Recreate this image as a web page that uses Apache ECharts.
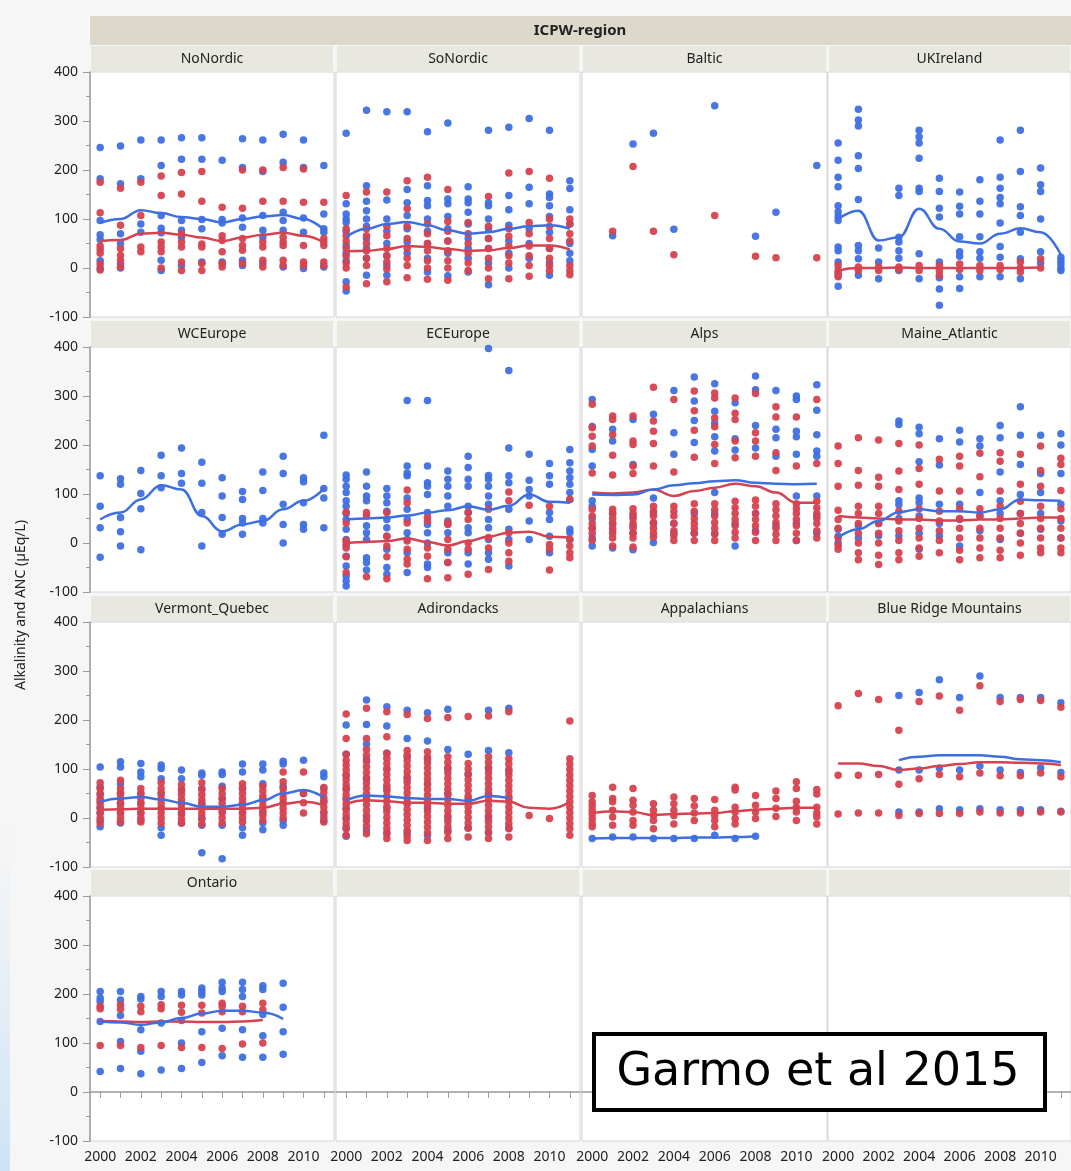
<!DOCTYPE html>
<html>
<head>
<meta charset="utf-8">
<script src="https://cdn.jsdelivr.net/npm/echarts@6/dist/echarts.min.js"></script>
<style>
  html, body { margin: 0; padding: 0; background: #f6f6f6; }
  #main { width: 1071px; height: 1171px; }
</style>
</head>
<body>
<div id="main"></div>
<script>
// years on the x axis, index 0 = 2000
var years = [2000, 2001, 2002, 2003, 2004, 2005, 2006, 2007, 2008, 2009, 2010, 2011];
var yearLabels = [2000, 2002, 2004, 2006, 2008, 2010];

// ---- NoNordic ----
var noNordicBlue = [[246, 182, 97, 68, 58, 15, 0], [249, 172, 70, 50, 9, 0], [261, 182, 90, 73], [261, 209, 107, 81, 72, 16, -5],
    [266, 222, 97, 77, 63, 5], [266, 222, 99, 80, 12], [220, 99, 92, 12], [264, 205, 102, 83, 16, 5],
    [261, 197, 107, 77, 63, 9], [273, 216, 114, 97, 77, 2], [261, 205, 102, 73, -1], [209, 110, 80, 73, 2]];
var noNordicRed = [[175, 113, 45, 38, 30, 8, -4], [163, 87, 40, 26, 16, 2], [175, 107, 43, 33], [188, 148, 53, 43, 33, 0],
    [195, 151, 70, 53, 43, 12, -5], [197, 136, 49, 43, 9, -5], [124, 66, 56, 33, 9, 2], [200, 122, 60, 46, 36, 9],
    [200, 136, 53, 43, 16, 2], [205, 136, 63, 53, 46, 16, 5], [202, 134, 46, 12, 5], [134, 60, 53, 46, 12, 5]];
var noNordicBlueFit = [92, 100, 118, 112, 104, 100, 93, 100, 105, 108, 100, 78];
var noNordicRedFit = [55, 57, 70, 72, 68, 62, 55, 62, 68, 72, 66, 52];

// ---- SoNordic ----
var soNordicBlue = [[275, 131, 110, 100, 93, 75, 46, 30, 15, -28, -47], [322, 168, 136, 117, 100, 85, 60, 40, 20, -15],
    [319, 139, 100, 75, 50, 25, 5, -15], [319, 160, 133, 107, 80, 53, 30], [278, 168, 138, 127, 100, 75, 50, 20, -8],
    [296, 141, 131, 105, 80, 55, 30, -16], [166, 141, 133, 114, 90, 60, 40, 20, -8], [281, 133, 127, 100, 80, 60, 40, 10, -34],
    [287, 148, 119, 87, 55, 30, 0], [305, 165, 131, 80, 50, 20], [281, 151, 144, 127, 105, 73, 40, 10, -15],
    [178, 162, 119, 90, 50, 30, 15]];
var soNordicRed = [[148, 80, 66, 55, 40, 25, 10, 0, -39], [155, 80, 66, 50, 35, 20, 5, -32], [155, 85, 66, 40, 25, 12, -2, -28],
    [178, 121, 85, 60, 40, 20, 5, -20], [185, 90, 70, 50, 35, 15, 0, -23], [160, 95, 75, 55, 35, 15, 0, -25],
    [93, 70, 50, 30, 10, -5], [146, 85, 60, 40, 20, 0, -22], [194, 80, 65, 45, 25, 10, -22], [197, 93, 70, 45, 25, 5, -17],
    [183, 100, 85, 60, 40, 20, 5, -5], [100, 90, 70, 55, 5, -5, -14]];
var soNordicBlueFit = [63, 80, 90, 94, 87, 77, 70, 73, 80, 85, 87, 80];
var soNordicRedFit = [34, 35, 39, 45, 43, 39, 35, 36, 41, 46, 46, 38];

// ---- Baltic ----
var balticBlue = [[], [66], [253], [275], [79], [], [331], [], [65], [114], [], [209]];
var balticRed = [[], [75], [207], [75], [27], [], [107], [], [24], [21], [], [21]];

// ---- UKIreland ----
var ukIrelandBlue = [[255, 220, 185, 166, 127, 115, 105, 97, 43, 35, 12, -15, -37], [324, 302, 290, 229, 203, 140, 46, 35, 19, -15],
    [41, 12, -22], [163, 148, 63, 53, 35, 20, -5], [281, 268, 255, 224, 163, 156, 29, -22], [183, 156, 122, 104, 12, -20, -43, -76],
    [155, 126, 110, 64, 33, 24, -18, -42], [180, 136, 110, 64, 33, 20, -18], [261, 185, 163, 144, 131, 92, 44, 22, -18],
    [281, 197, 125, 107, 73, 19, -22], [204, 170, 156, 100, 33, 10], [22, 15, 8, 0, -5]];
var ukIrelandRed = [[5, -5, -10, -18], [2, -5], [2, -5], [2, -3], [5, -5], [5, -5, -15], [8, -3], [5, -5], [5, -3], [12, 0, -8], [19, 0], []];
var ukIrelandBlueFit = [100, 117, 56, 63, 121, 80, 54, 50, 70, 81, 73, 27];
var ukIrelandRedFit = [-5, 0, 0, 1, 0, 0, 0, 0, 0, 0, 1, null];

// ---- WCEurope ----
var wcEuropeBlue = [[137, 75, 31, -29], [131, 120, 52, 23, -6], [148, 101, 70, -14], [179, 137, 113], [194, 142, 122],
    [165, 122, 62, -6], [133, 96, 52, 18], [105, 89, 50, 41, 18], [145, 107, 50, 41], [177, 142, 79, 38, 0],
    [133, 125, 82, 38, 28], [220, 111, 92, 31]];
var wcEuropeBlueFit = [48, 62, 89, 118, 109, 55, 24, 38, 45, 69, 86, 111];

// ---- ECEurope ----
var ecEuropeBlue = [[139, 130, 116, 103, 86, 75, 60, 48, 28, 7, -6, -27, -47, -67, -77, -88], [145, 116, 96, 86, 35, 21, 7, -30, -40, -55],
    [111, 96, 82, 65, 48, 31, 14, -13, -50, -64], [291, 157, 143, 137, 92, 69, 48, 21, 7, -20, -60],
    [291, 157, 123, 116, 99, 62, 38, 21, 0, -43, -50], [147, 130, 116, 96, 75, 45, 21, -20, -40],
    [177, 154, 130, 116, 75, 62, 31, 21, -20, -43], [397, 138, 130, 116, 96, 79, 48, 31, 7, -20, -33],
    [352, 194, 137, 123, 69, 28, 7, -47], [181, 128, 109, 96, 45, 7], [162, 137, 120, 62, 48, 14, -20],
    [191, 164, 147, 133, 120, 103, 89, 28, 21, 7]];
var ecEuropeRed = [[63, 41, 5, -1, -10, -28, -60], [62, 55, -69], [62, 14, -6, -28, -73], [108, 82, 41, 4, -13, -33, -43],
    [52, 45, -10, -27, -73], [41, 38, 7, -13, -40, -71], [62, 48, 0, -13, -64], [69, 11, -10, -54],
    [104, 86, 21, 0, -20, -37], [77], [75, -3, -13, -55], [89, 7, -6, -20, -30]];
var ecEuropeBlueFit = [48, 50, 52, 56, 62, 67, 75, 68, 76, 99, 84, 82];
var ecEuropeRedFit = [0, 2, 4, 9, 2, -5, 4, 13, 21, 23, 13, 11];

// ---- Alps ----
var alpsBlue = [[293, 238, 191, 157, 86, 75, 50, 30, 10, -6], [232, 208, 60, 40, 25, -10], [252, 160, 55, 35, 20, -14],
    [263, 92, 60, 40, 1], [311, 225, 181, 40, 20], [339, 290, 250, 205, 60, 20], [325, 269, 245, 217, 188, 103, 60, 20],
    [286, 213, 190, 40, -6], [341, 313, 240, 194, 60, 25], [311, 232, 215, 177, 35], [300, 293, 228, 217, 181, 96, 40, 5],
    [323, 271, 221, 188, 177, 96, 55, 20]];
var alpsRed = [[283, 235, 218, 198, 143, 69, 55, 40, 30, 20, 5], [259, 252, 221, 179, 139, 69, 60, 50, 40, 30, 20, 10, -6],
    [259, 208, 201, 157, 142, 70, 60, 50, 40, 30, 20, 10, -8], [318, 249, 228, 203, 157, 75, 65, 55, 42, 30, 20, 12],
    [293, 145, 75, 65, 55, 40, 25, 15, 5], [310, 270, 230, 175, 80, 65, 50, 40, 30, 20, 5],
    [306, 296, 255, 237, 201, 162, 80, 68, 55, 42, 30, 18, 5], [296, 265, 252, 208, 174, 85, 72, 60, 48, 35, 22, 10],
    [305, 225, 208, 177, 88, 75, 60, 48, 35, 22, 5], [278, 257, 184, 148, 80, 68, 55, 42, 30, 18, 5],
    [257, 157, 80, 70, 60, 48, 35, 20, 5], [293, 162, 85, 72, 60, 50, 40, 25, 10]];
var alpsBlueFit = [99, 98, 99, 109, 118, 122, 126, 128, 123, 121, 120, 121];
var alpsRedFit = [103, 101, 103, 109, 96, 106, 113, 121, 116, 103, 82, 82];

// ---- Maine_Atlantic ----
var maineBlue = [[28, 14, 0], [35, 10], [40, 15], [249, 242, 86, 78, 50, 15], [236, 223, 166, 92, 82, 55, 20, -13],
    [213, 159, 79, 40, 15], [230, 206, 79, 48, -6], [213, 198, 103, 55, 25], [240, 215, 145, 86, 60, 7],
    [278, 220, 160, 99, 60, 20], [220, 142, 103, 60, 28], [223, 200, 142, 79, 45, 10]];
var maineRed = [[198, 162, 116, 67, 48, 30, 10, -5, -13], [215, 148, 118, 75, 60, 40, 20, 0, -20, -34],
    [210, 134, 116, 75, 60, 40, 20, 0, -25, -44], [203, 147, 109, 65, 45, 25, 5, -20, -34],
    [200, 152, 120, 70, 50, 30, 10, -10, -27], [171, 106, 65, 45, 25, 5, -20], [177, 157, 106, 70, 50, 30, 10, -15, -34],
    [183, 135, 70, 55, 30, 10, -10, -30], [184, 167, 106, 75, 50, 30, 10, -15, -30], [181, 120, 85, 60, 40, 20, 0, -25],
    [198, 148, 116, 75, 50, 30, 10, -10, -20], [173, 160, 107, 70, 50, 30, 10, -10, -20]];
var maineBlueFit = [11, 28, 45, 63, 69, 65, 65, 62, 69, 89, 87, 86];
var maineRedFit = [55, 52, 50, 48, 48, 46, 46, 48, 48, 50, 52, 52];

// ---- Vermont_Quebec ----
var vermontBlue = [[104, 63, 48, 35, 22, 10, -5, -18], [115, 104, 70, 50, 30, 10, -10], [111, 94, 84, 50, 30, 10, -5],
    [108, 101, 80, 50, 20, -20, -35], [98, 80, 55, 30, 10, -10], [92, 87, 60, 30, 0, -15, -71], [94, 89, 65, 40, 15, -15, -83],
    [110, 94, 60, 30, 10, -20, -35], [110, 98, 70, 40, 10, -10, -24], [116, 110, 65, 30, -5, -15], [118, 50],
    [92, 84, 60, 35, 10, -5]];
var vermontRed = [[72, 60, 50, 40, 30, 20, 10, 0, -10], [77, 60, 50, 40, 30, 20, 10, 0, -8], [60, 50, 40, 30, 20, 10, 0, -8],
    [72, 60, 50, 40, 30, 20, 10, 0, -10], [68, 58, 48, 38, 28, 18, 8, -2, -10], [72, 58, 48, 38, 28, 18, 8, -2, -12],
    [60, 50, 40, 30, 20, 10, 0, -10], [70, 60, 50, 40, 30, 20, 10, 0, -8], [65, 55, 45, 35, 25, 15, 5, -5],
    [94, 74, 60, 50, 40, 30, 20, 10, 0], [94, 50, 31, 10], [62, 52, 42, 32, 22, 12, 2, -8]];
var vermontBlueFit = [33, 40, 43, 38, 31, 23, 23, 27, 36, 50, 57, 42];
var vermontRedFit = [17, 18, 19, 19, 19, 19, 19, 19, 21, 29, 33, 26];

// ---- Adirondacks ----
var adkBlue = [[190, 130, 87, 60, 40, 20, 0, -20, -37], [241, 191, 151, 120, 80, 40, 0, -25], [227, 188, 132, 100, 60, 20, -30],
    [220, 162, 125, 80, 30, -30], [215, 157, 120, 70, 20, -35], [222, 140, 100, 50, 0, -25], [130, 90, 40, -20],
    [220, 138, 100, 50, 0, -30], [224, 133, 95, 40, -20], [], [], []];
var adkRed = [[212, 162, 130, 118, 108, 98, 88, 78, 68, 58, 48, 38, 28, 18, 8, -2, -12, -22, -35],
    [224, 162, 140, 128, 115, 104, 93, 82, 71, 60, 49, 38, 27, 16, 5, -6, -17, -32],
    [217, 166, 132, 122, 111, 100, 89, 78, 67, 56, 45, 34, 23, 12, 1, -10, -21, -32, -42],
    [211, 138, 128, 117, 106, 95, 84, 73, 62, 51, 40, 29, 18, 7, -4, -15, -26, -37, -46],
    [203, 135, 124, 113, 102, 91, 80, 69, 58, 47, 36, 25, 14, 3, -8, -19, -30, -46],
    [205, 125, 114, 103, 92, 81, 70, 59, 48, 37, 26, 15, 4, -7, -18, -29, -42],
    [207, 111, 100, 89, 78, 67, 56, 45, 34, 23, 12, 1, -10, -21, -39],
    [208, 125, 114, 103, 92, 81, 70, 59, 48, 37, 26, 15, 4, -7, -18, -29, -42],
    [217, 121, 110, 99, 88, 77, 66, 55, 44, 33, 22, 11, 0, -11, -22, -39],
    [5], [-1], [198, 121, 110, 99, 88, 77, 66, 55, 44, 33, 22, 11, 0, -11, -22, -35]];
var adkBlueFit = [36, 46, 44, 41, 39, 39, 35, 45, 41, null, null, null];
var adkRedFit = [29, 36, 34, 31, 31, 29, 29, 35, 33, 21, 19, 33];

// ---- Appalachians ----
var appBlue = [[-42], [-39], [-39], [-42], [-42], [-42], [-35], [-42], [-37], [], [], []];
var appRed = [[46, 33, 25, 16, 8, -1, -10, -18], [63, 40, 33, 16, 2, -15], [60, 36, 26, 12, -5, -15], [29, 16, 5, -5, -22],
    [43, 29, 16, 5, -12], [40, 25, 10, -5], [38, 16, 5, -5, -18], [63, 57, 22, 12, -1, -12], [46, 26, 12, -1],
    [55, 40, 20, 3], [74, 60, 34, 22, 12, -5], [58, 49, 22, 10, 2, -12]];
var appBlueFit = [-42, -41, -41, -41, -41, -40, -40, -39, -37, null, null, null];
var appRedFit = [10, 14, 12, 6, 8, 9, 10, 14, 17, 19, 21, 21];

// ---- Blue Ridge Mountains ----
var blueRidgeBlue = [[], [], [], [250, 98, 12], [256, 98, 12], [282, 102, 19], [246, 98, 17], [290, 106, 19],
    [246, 98, 17], [246, 93, 17], [246, 102, 17], [235, 93, 14]];
var blueRidgeRed = [[229, 87, 8], [254, 87, 10], [242, 89, 10], [179, 69, 5], [238, 80, 9], [249, 89, 9], [220, 84, 9],
    [270, 92, 12], [238, 86, 10], [242, 86, 10], [240, 92, 12], [226, 84, 12]];
var blueRidgeBlueFit = [null, null, null, 118, 125, 128, 128, 128, 125, 120, 118, 114];
var blueRidgeRedFit = [111, 111, 106, 98, 101, 106, 110, 114, 114, 113, 111, 108];

// ---- Ontario ----
var ontarioBlue = [[205, 192, 185, 144, 42], [205, 188, 156, 103, 48], [195, 190, 127, 83, 37], [205, 195, 141, 45],
    [205, 198, 146, 100, 48], [212, 205, 198, 123, 60], [224, 212, 205, 130, 74], [224, 209, 195, 127, 71],
    [217, 209, 158, 115, 71], [222, 173, 123, 77], [], []];
var ontarioRed = [[175, 170, 95], [178, 169, 95], [175, 164, 91], [178, 170, 95], [177, 163, 91], [177, 161, 91],
    [181, 175, 164, 89], [175, 164, 98], [181, 168, 100], [], [], []];
var ontarioBlueFit = [144, 142, 137, 142, 151, 160, 166, 166, 162, 149, null, null];
var ontarioRedFit = [145, 144, 143, 144, 144, 143, 143, 144, 147, null, null, null];

var panels = [
    { name: 'NoNordic', blue: noNordicBlue, red: noNordicRed, blueFit: noNordicBlueFit, redFit: noNordicRedFit },
    { name: 'SoNordic', blue: soNordicBlue, red: soNordicRed, blueFit: soNordicBlueFit, redFit: soNordicRedFit },
    { name: 'Baltic', blue: balticBlue, red: balticRed },
    { name: 'UKIreland', blue: ukIrelandBlue, red: ukIrelandRed, blueFit: ukIrelandBlueFit, redFit: ukIrelandRedFit },
    { name: 'WCEurope', blue: wcEuropeBlue, blueFit: wcEuropeBlueFit },
    { name: 'ECEurope', blue: ecEuropeBlue, red: ecEuropeRed, blueFit: ecEuropeBlueFit, redFit: ecEuropeRedFit },
    { name: 'Alps', blue: alpsBlue, red: alpsRed, blueFit: alpsBlueFit, redFit: alpsRedFit },
    { name: 'Maine_Atlantic', blue: maineBlue, red: maineRed, blueFit: maineBlueFit, redFit: maineRedFit },
    { name: 'Vermont_Quebec', blue: vermontBlue, red: vermontRed, blueFit: vermontBlueFit, redFit: vermontRedFit },
    { name: 'Adirondacks', blue: adkBlue, red: adkRed, blueFit: adkBlueFit, redFit: adkRedFit },
    { name: 'Appalachians', blue: appBlue, red: appRed, blueFit: appBlueFit, redFit: appRedFit },
    { name: 'Blue Ridge Mountains', blue: blueRidgeBlue, red: blueRidgeRed, blueFit: blueRidgeBlueFit, redFit: blueRidgeRedFit },
    { name: 'Ontario', blue: ontarioBlue, red: ontarioRed, blueFit: ontarioBlueFit, redFit: ontarioRedFit },
    { name: '' }, { name: '' }, { name: '' }
];

var blueColor = '#3e6fe0';
var redColor = '#d6424f';
var axisGrey = '#9b9b9b';
var fontName = '"Noto Sans", sans-serif';

// panel layout (px)
var colLeft = [90, 336, 582, 828];
var colWidth = [244, 244, 245, 243];
var rowTop = [72, 347, 622, 896];
var rowHeight = 245;

// year columns -> [x, y] points
function toPoints(rows) {
    var out = [];
    (rows || []).forEach(function (vals, i) {
        vals.forEach(function (v) { out.push([years[i], v]); });
    });
    return out;
}
function toLine(fit) {
    var out = [];
    (fit || []).forEach(function (v, i) {
        if (v !== null) out.push([years[i], v]);
    });
    return out;
}

var grids = [], xAxes = [], yAxes = [], series = [], graphics = [];

// top header
graphics.push({ type: 'rect', shape: { x: 90, y: 16, width: 981, height: 29 }, style: { fill: '#dcd9cb' }, silent: true });
graphics.push({ type: 'text', x: 580, y: 31, silent: true,
    style: { text: 'ICPW-region', font: 'bold 15px ' + fontName, fill: '#222', textAlign: 'center', textVerticalAlign: 'middle' } });

panels.forEach(function (p, i) {
    var r = Math.floor(i / 4), c = i % 4;
    grids.push({
        left: colLeft[c], top: rowTop[r], width: colWidth[c], height: rowHeight,
        show: true, backgroundColor: '#ffffff', borderColor: '#d4d4d4', borderWidth: 1
    });
    var bottom = r === 3;
    xAxes.push({
        gridIndex: i, type: 'value', min: 1999.5, max: 2011.5, show: bottom,
        axisLine: { show: true, lineStyle: { color: axisGrey, width: 1.5 } },
        axisTick: { show: true, length: 6, lineStyle: { color: axisGrey }, customValues: years },
        axisLabel: { show: true, customValues: yearLabels, margin: 9, fontSize: 14, fontFamily: fontName, color: '#222',
            formatter: function (v) { return String(v); } },
        splitLine: { show: false }
    });
    yAxes.push({
        gridIndex: i, type: 'value', min: -100, max: 400, interval: 100, show: c === 0,
        axisLine: { show: true, lineStyle: { color: axisGrey, width: 1.5 } },
        axisTick: { show: true, length: 7, lineStyle: { color: axisGrey } },
        minorTick: { show: true, splitNumber: 2, length: 4, lineStyle: { color: axisGrey } },
        axisLabel: { margin: 12, fontSize: 14, fontFamily: fontName, color: '#222' },
        splitLine: { show: false }
    });

    // strip header
    graphics.push({ type: 'rect', silent: true,
        shape: { x: colLeft[c] + 1, y: rowTop[r] - 26, width: colWidth[c] - 2, height: 25 },
        style: { fill: '#e8e8e0' } });
    if (p.name) {
        graphics.push({ type: 'text', silent: true, x: colLeft[c] + colWidth[c] / 2, y: rowTop[r] - 13,
            style: { text: p.name, font: '14px ' + fontName, fill: '#222', textAlign: 'center', textVerticalAlign: 'middle' } });
    }

    if (p.blue) series.push({ type: 'scatter', xAxisIndex: i, yAxisIndex: i, data: toPoints(p.blue),
        symbolSize: 7.5, itemStyle: { color: blueColor, opacity: 0.95 }, z: 2, silent: true });
    if (p.red) series.push({ type: 'scatter', xAxisIndex: i, yAxisIndex: i, data: toPoints(p.red),
        symbolSize: 7.5, itemStyle: { color: redColor, opacity: 0.95 }, z: 3, silent: true });
    if (p.blueFit) series.push({ type: 'line', xAxisIndex: i, yAxisIndex: i, data: toLine(p.blueFit),
        smooth: 0.45, smoothMonotone: 'x',
        showSymbol: false, lineStyle: { color: blueColor, width: 2.5 }, z: 5, silent: true });
    if (p.redFit) series.push({ type: 'line', xAxisIndex: i, yAxisIndex: i, data: toLine(p.redFit),
        smooth: 0.45, smoothMonotone: 'x',
        showSymbol: false, lineStyle: { color: redColor, width: 2.5 }, z: 4, silent: true });
});

// y axis title
graphics.push({ type: 'text', silent: true, x: 21, y: 605, rotation: Math.PI / 2,
    style: { text: 'Alkalinity and ANC (µEq/L)', font: '14px ' + fontName, fill: '#222', textAlign: 'center', textVerticalAlign: 'middle' } });

// faint blue band at the lower left edge
graphics.push({ type: 'rect', silent: true, shape: { x: 0, y: 820, width: 10, height: 351 },
    style: { fill: new echarts.graphic.LinearGradient(0, 0, 0, 1, [
        { offset: 0, color: 'rgba(215,232,248,0)' }, { offset: 1, color: 'rgba(200,225,245,0.9)' }]) } });

// citation box
graphics.push({ type: 'rect', silent: true, z: 100, shape: { x: 594, y: 1034, width: 451, height: 76 },
    style: { fill: '#ffffff', stroke: '#000000', lineWidth: 4 } });
graphics.push({ type: 'text', silent: true, z: 101, x: 818, y: 1073,
    style: { text: 'Garmo et al 2015', font: '46px "DejaVu Sans", sans-serif', fill: '#000', textAlign: 'center', textVerticalAlign: 'middle' } });

var chart = echarts.init(document.getElementById('main'));
chart.setOption({
    animation: false,
    backgroundColor: '#f6f6f6',
    grid: grids,
    xAxis: xAxes,
    yAxis: yAxes,
    series: series,
    graphic: graphics
});
</script>
</body>
</html>
